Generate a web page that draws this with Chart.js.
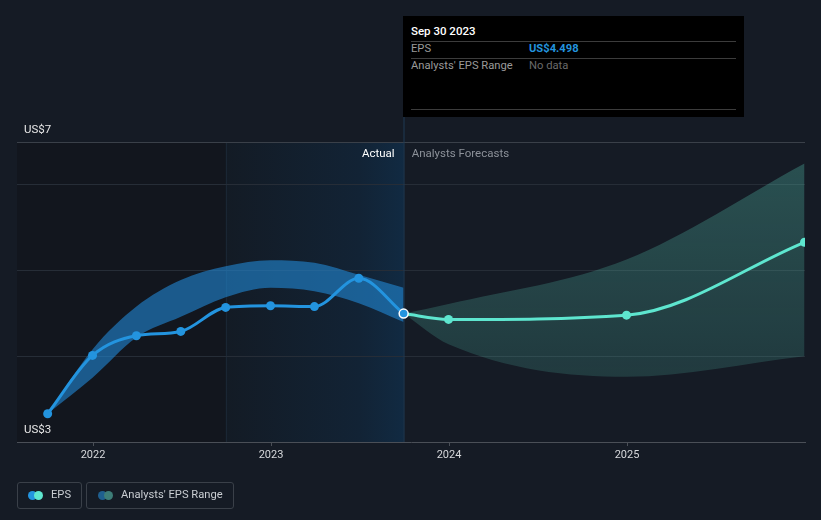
<!DOCTYPE html>
<html>
<head>
<meta charset="utf-8">
<script src="https://cdn.jsdelivr.net/npm/chart.js@4.4.0/dist/chart.umd.min.js"></script>
<style>
  html, body { margin:0; padding:0; background:#151b25; }
  #wrap { position:relative; width:821px; height:520px; overflow:hidden; font-family: Roboto, "Noto Sans", sans-serif; }
  canvas { position:absolute; left:0; top:0; }
  .tt { position:absolute; left:403px; top:16px; width:341px; height:101px; background:#000; font-size:11.2px; }
  .tt .ln { position:absolute; left:8px; width:325px; height:1px; background:#3c3c3c; }
  .tt .t { position:absolute; line-height:14px; white-space:nowrap; }
  .lg { position:absolute; top:482px; height:27px; border:1px solid #3a4049; border-radius:3px; box-sizing:border-box; }
  .lg .d { position:absolute; top:8px; width:9px; height:9px; border-radius:50%; }
  .lg .x { position:absolute; top:5px; line-height:14px; font-size:11.2px; color:#c9cdd2; white-space:nowrap; }
</style>
</head>
<body>
<div id="wrap">
  <canvas id="c" width="821" height="520"></canvas>
  <div class="tt">
    <div class="t" style="left:8px;top:8px;color:#fff;font-weight:500;font-size:11.5px;">Sep 30 2023</div>
    <div class="ln" style="top:25px;"></div>
    <div class="t" style="left:8px;top:26px;color:#9a9a9a;">EPS</div>
    <div class="t" style="left:126px;top:26px;color:#2394df;font-weight:700;">US$4.498</div>
    <div class="ln" style="top:42px;"></div>
    <div class="t" style="left:8px;top:43px;color:#9a9a9a;">Analysts' EPS Range</div>
    <div class="t" style="left:126px;top:43px;color:#6a6a6a;">No data</div>
    <div class="ln" style="top:93px;"></div>
  </div>
  <div class="lg" style="left:17px;width:65px;">
    <div class="d" style="left:10px;background:#2394df;"></div>
    <div class="d" style="left:16px;background:#5ee6cf;"></div>
    <div class="x" style="left:33px;">EPS</div>
  </div>
  <div class="lg" style="left:86px;width:148px;">
    <div class="d" style="left:11px;background:#1f5f8f;"></div>
    <div class="d" style="left:17px;background:#3d7d78;"></div>
    <div class="x" style="left:34px;">Analysts' EPS Range</div>
  </div>
</div>
<script>
// ---- data ----
const actualPeriods   = ['2021-09-30','2021-12-31','2022-03-31','2022-06-30','2022-09-30','2022-12-31','2023-03-31','2023-06-30','2023-09-30'];
const epsActual       = [3.33, 4.01, 4.24, 4.29, 4.57, 4.59, 4.58, 4.91, 4.498];
const pastRangeHigh   = [3.33, 4.08, 4.58, 4.89, 5.05, 5.12, 5.09, 4.95, 4.80];
const pastRangeLow    = [3.33, 3.75, 4.22, 4.46, 4.69, 4.80, 4.76, 4.62, 4.40];
const forecastPeriods = ['2023-09-30','2023-12-31','2024-12-31','2025-12-31'];
const epsForecast     = [4.498, 4.43, 4.48, 5.33];
const forecastHigh    = [4.498, 4.61, 5.13, 6.25];
const forecastLow     = [4.498, 4.14, 3.76, 4.00];
const xTickYears      = [2022, 2023, 2024, 2025];
const yGridValues     = [3, 4, 5, 6, 6.5];
const yLabelTop = 'US$7', yLabelBottom = 'US$3';
const highlightStart = '2022-09-30', highlightEnd = '2023-09-30';

function decYear(s){
  const [y,m,d] = s.split('-').map(Number);
  const t = Date.UTC(y,m-1,d), a = Date.UTC(y,0,1), b = Date.UTC(y+1,0,1);
  return y + (t-a)/(b-a);
}
const pts = (dates, vals) => dates.map((d,i)=>({x:decYear(d), y:vals[i]}));
const FONT = 'Roboto, "Noto Sans", sans-serif';

const bgPlugin = {
  id:'bg',
  beforeDraw(chart){
    const {ctx, chartArea:a, scales:{x}} = chart;
    const xs = x.getPixelForValue(decYear(highlightStart));
    const xe = x.getPixelForValue(decYear(highlightEnd));
    ctx.save();
    ctx.fillStyle = '#12161e';
    ctx.fillRect(a.left, a.top, xs-a.left, a.bottom-a.top);
    const g = ctx.createLinearGradient(xs,0,xe,0);
    g.addColorStop(0,'#131b25');
    g.addColorStop(0.75,'#122335');
    g.addColorStop(1,'#112a42');
    ctx.fillStyle = g;
    ctx.fillRect(xs, a.top, xe-xs, a.bottom-a.top);
    ctx.fillStyle = '#1a2634';
    ctx.fillRect(Math.round(xs), a.top, 1, a.bottom-a.top);
    ctx.restore();
  },
  afterDraw(chart){
    const {ctx, chartArea:a, scales:{x,y}} = chart;
    const xe = x.getPixelForValue(decYear(highlightEnd));
    ctx.save();
    ctx.fillStyle = '#1e3a55';
    ctx.fillRect(Math.round(xe)-0.5, 117, 1, a.bottom-117);
    ctx.font = '11.5px ' + FONT;
    ctx.textBaseline = 'middle';
    ctx.fillStyle = '#ffffff';
    ctx.textAlign = 'right';
    ctx.fillText('Actual', xe-9, a.top+12);
    ctx.fillStyle = '#8c9199';
    ctx.textAlign = 'left';
    ctx.fillText('Analysts Forecasts', xe+8, a.top+12);
    ctx.fillStyle = '#e8e8e8';
    ctx.fillText(yLabelTop, 24, y.getPixelForValue(6.5)-12);
    ctx.fillText(yLabelBottom, 24, y.getPixelForValue(3)-12);
    ctx.restore();
    const meta = chart.getDatasetMeta(0);
    const p = meta.data[meta.data.length-1];
    ctx.save();
    ctx.beginPath();
    ctx.arc(p.x, p.y, 4.5, 0, Math.PI*2);
    ctx.fillStyle = '#2394df';
    ctx.fill();
    ctx.lineWidth = 1.5;
    ctx.strokeStyle = '#ffffff';
    ctx.stroke();
    ctx.restore();
  }
};

const ctx = document.getElementById('c').getContext('2d');
new Chart(ctx, {
  type:'line',
  data:{
    datasets:[
      { label:'EPS', data:pts(actualPeriods, epsActual), borderColor:'#2394df', backgroundColor:'#2394df',
        borderWidth:3, pointRadius:4.5, pointBorderWidth:0, cubicInterpolationMode:'monotone', fill:false, order:1 },
      { label:'EPS forecast', data:pts(forecastPeriods, epsForecast), borderColor:'#5ee6cf', backgroundColor:'#5ee6cf',
        borderWidth:3, pointRadius:c=>c.dataIndex===0?0:4.5, pointBorderWidth:0, cubicInterpolationMode:'monotone', fill:false, order:1 },
      { label:'Range high', data:pts(actualPeriods, pastRangeHigh), borderWidth:0, pointRadius:0, cubicInterpolationMode:'monotone',
        backgroundColor:'rgba(33,137,214,0.6)', fill:'+1', order:2 },
      { label:'Range low', data:pts(actualPeriods, pastRangeLow), borderWidth:0, pointRadius:0, cubicInterpolationMode:'monotone', fill:false, order:2 },
      { label:'Forecast high', data:pts(forecastPeriods, forecastHigh), borderWidth:0, pointRadius:0, cubicInterpolationMode:'monotone',
        backgroundColor:(c)=>{
          const a=c.chart.chartArea; if(!a) return 'rgba(88,200,180,0.25)';
          const g=c.chart.ctx.createLinearGradient(0,a.top,0,a.bottom);
          g.addColorStop(0,'rgba(88,200,180,0.32)'); g.addColorStop(1,'rgba(88,200,180,0.14)'); return g;
        }, fill:'+1', order:2 },
      { label:'Forecast low', data:pts(forecastPeriods, forecastLow), borderWidth:0, pointRadius:0, cubicInterpolationMode:'monotone', fill:false, order:2 }
    ]
  },
  options:{
    responsive:false, animation:false, events:[],
    layout:{ padding:{ left:17, right:16, top:142, bottom:48 } },
    plugins:{ legend:{display:false}, tooltip:{enabled:false} },
    scales:{
      x:{ type:'linear', min:2021.573, max:2026.0,
        afterBuildTicks:s=>{ s.ticks = xTickYears.map(v=>({value:v})); },
        afterFit:s=>{ s.height = 30; },
        grid:{ drawOnChartArea:false, drawTicks:true, tickLength:4, color:'#4a4f57' },
        border:{ color:'#4a4f57', width:1 },
        ticks:{ color:'#d6d8db', font:{family:'Roboto', size:11}, padding:3, maxRotation:0, callback:v=>String(v) } },
      y:{ type:'linear', min:3, max:6.5,
        afterBuildTicks:s=>{ s.ticks = yGridValues.map(v=>({value:v})); },
        afterFit:s=>{ s.width = 0; },
        grid:{ drawTicks:false, color:c=> c.tick.value===6.5 ? '#3a4049' : (c.tick.value===3 ? 'rgba(0,0,0,0)' : '#262d37'), lineWidth:1 },
        border:{ display:false },
        ticks:{ display:false } }
    }
  },
  plugins:[bgPlugin]
});
</script>
</body>
</html>
